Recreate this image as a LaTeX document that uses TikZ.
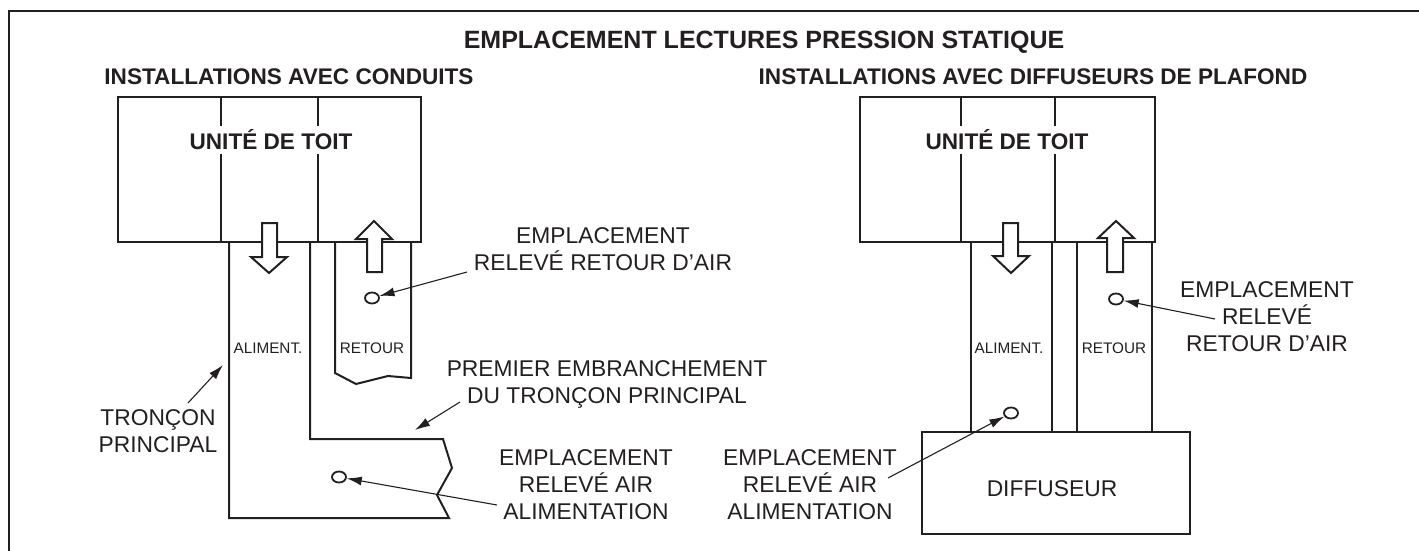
\documentclass[tikz,border=0pt]{standalone}
\usepackage{fontspec}
\setmainfont{Liberation Sans}
\usetikzlibrary{shapes.geometric,arrows.meta}
\definecolor{ink}{HTML}{231F20}
\begin{document}
\begin{tikzpicture}[x=1pt,y=-1pt, line join=miter,
  wall/.style={draw=ink, line width=2pt},
  frame/.style={draw=ink, line width=2.2pt},
  leader/.style={draw=ink, line width=1.1pt, -{Latex[length=15pt,width=9pt]}},
  hollow/.style={draw=ink, line width=2pt, fill=white},
  tap/.style={ellipse, draw=ink, line width=1.8pt, minimum width=14pt, minimum height=11pt, inner sep=0pt},
  lbl/.style={text=ink, font=\fontsize{22.8}{27}\selectfont, align=center, inner sep=0pt},
  small/.style={text=ink, font=\fontsize{15.3}{18}\selectfont, inner sep=0pt},
  ttl/.style={text=ink, font=\bfseries\fontsize{25}{28}\selectfont, inner sep=0pt},
  sub/.style={text=ink, font=\bfseries\fontsize{22.6}{26}\selectfont, inner sep=0pt},
  unit/.style={text=ink, font=\bfseries\fontsize{22.6}{26}\selectfont, fill=white, inner xsep=1pt, inner ysep=4pt}]
\useasboundingbox (0,0) rectangle (1419,550);
% frame
\draw[frame] (9,560) -- (9,11) -- (1430,11);
% titles
\node[ttl] (title) at (764,42) {EMPLACEMENT LECTURES PRESSION STATIQUE};
\node[sub] (subL) at (289,77) {INSTALLATIONS AVEC CONDUITS};
\node[sub] (subR) at (1033,77) {INSTALLATIONS AVEC DIFFUSEURS DE PLAFOND};

% ---------- left: ducted ----------
\draw[wall] (118,97) rectangle (421,242);
\draw[wall] (221,97) -- (221,242) (318,97) -- (318,242);
\node[unit] (unitL) at (271,140) {UNITÉ DE TOIT};
% supply duct (main trunk)
\draw[wall] (229,242) -- (229,518) -- (449,518) -- (437,495) -- (452,468) -- (443,439) -- (310,439) -- (310,242);
% return duct
\draw[wall] (335,242) -- (335,373) -- (356,384) -- (388,376) -- (411,378) -- (411,242);
% flow arrows
\draw[hollow] (262,223) -- (277,223) -- (277,257) -- (287,257) -- (269,273) -- (251,257) -- (262,257) -- cycle;
\draw[hollow] (367,272) -- (382,272) -- (382,239) -- (392,239) -- (374,221) -- (356,239) -- (367,239) -- cycle;
\node[small] (alimL) at (268,348) {ALIMENT.};
\node[small] (retL) at (372,348) {RETOUR};
\node[tap] (tapRL) at (372,298) {};
\node[tap] (tapSL) at (339,477) {};
\node[lbl] (txtRL) at (603,249) {EMPLACEMENT\\RELEVÉ RETOUR D’AIR};
\node[lbl] (txtBr) at (607,384) {PREMIER EMBRANCHEMENT\\DU TRONÇON PRINCIPAL};
\node[lbl] (txtSL) at (586,485) {EMPLACEMENT\\RELEVÉ AIR\\ALIMENTATION};
\node[lbl] (txtTr) at (158,431) {TRONÇON\\PRINCIPAL};
\coordinate (sRL) at (467,272);
\coordinate (sSL) at (497,505);
\coordinate (sBr) at (460,402);
\coordinate (eBr) at (415,430);
\coordinate (sTr) at (188,403);
\coordinate (eTr) at (223,365);
\draw[leader] (sRL) -- (tapRL);
\draw[leader] (sSL) -- (tapSL);
\draw[leader] (sBr) -- (eBr);
\draw[leader] (sTr) -- (eTr);

% ---------- right: ceiling diffuser ----------
\draw[wall] (860,97) rectangle (1155,242);
\draw[wall] (961,97) -- (961,242) (1055,97) -- (1055,242);
\node[unit] (unitR) at (1007,140) {UNITÉ DE TOIT};
\draw[wall] (971,242) -- (971,431) (1052,242) -- (1052,431);
\draw[wall] (1077,242) -- (1077,431) (1152,242) -- (1152,431);
\node[draw=ink, line width=2pt, minimum width=268pt, minimum height=102pt, inner sep=0pt, anchor=north west] (diff) at (921,431) {};
\node[lbl] (diffT) at (1052,489) {DIFFUSEUR};
\draw[hollow] (1003,223) -- (1018,223) -- (1018,256) -- (1029,256) -- (1011,273) -- (993,256) -- (1003,256) -- cycle;
\draw[hollow] (1107,272) -- (1123,272) -- (1123,238) -- (1134,238) -- (1116,221) -- (1098,238) -- (1107,238) -- cycle;
\node[small] (alimR) at (1009,348) {ALIMENT.};
\node[small] (retR) at (1114,348) {RETOUR};
\node[tap] (tapRR) at (1116,299) {};
\node[tap] (tapSR) at (1011,413) {};
\node[lbl] (txtRR) at (1267,317) {EMPLACEMENT\\RELEVÉ\\RETOUR D’AIR};
\node[lbl] (txtSR) at (810,485) {EMPLACEMENT\\RELEVÉ AIR\\ALIMENTATION};
\coordinate (sRR) at (1215,319);
\coordinate (sSR) at (888,478);
\draw[leader] (sRR) -- (tapRR);
\draw[leader] (sSR) -- (tapSR);
\end{tikzpicture}
\end{document}
